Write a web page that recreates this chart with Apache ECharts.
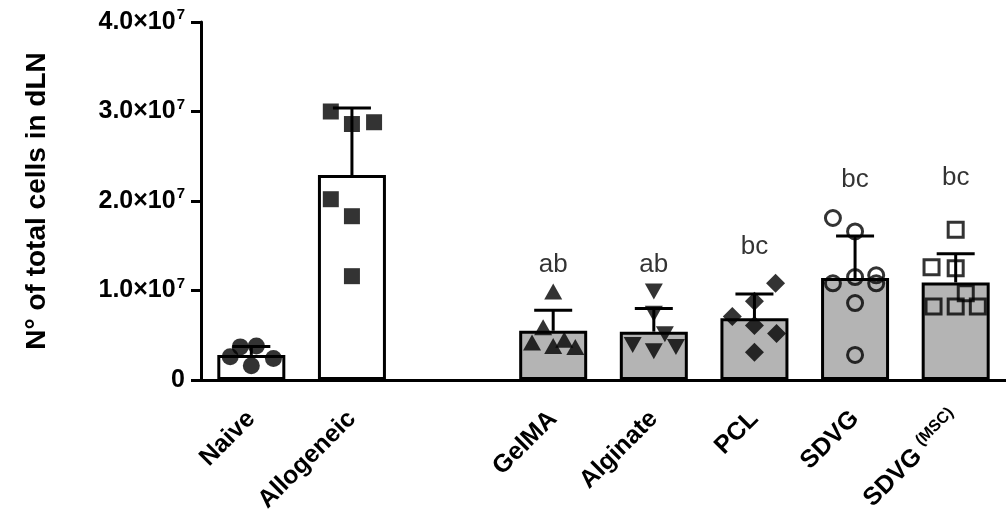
<!DOCTYPE html>
<html>
<head>
<meta charset="utf-8">
<script src="https://cdn.jsdelivr.net/npm/echarts@6/dist/echarts.min.js"></script>
<style>
  html, body { margin: 0; padding: 0; background: #fff; }
  #chart { width: 1006px; height: 520px; }
</style>
</head>
<body>
<div id="chart"></div>
<script>
// Groups along the x axis (the blank entry is the gap between controls and scaffolds)
const categories = ['Naive', 'Allogeneic', '', 'GelMA', 'Alginate', 'PCL', 'SDVG', 'SDVG (MSC)'];

// Bar heights (mean) and standard deviation per group
const barMeans = [2.8e6, 2.29e7, null, 5.5e6, 5.4e6, 6.9e6, 1.14e7, 1.09e7];
const barSD    = [0.95e6, 0.75e7, null, 0.23e7, 0.26e7, 0.27e7, 0.47e7, 0.32e7];

// Individual animals per group
const naivePts      = [3.7e6, 3.8e6, 2.6e6, 2.4e6, 1.6e6];
const allogeneicPts = [3.0e7, 2.86e7, 2.88e7, 2.02e7, 1.83e7, 1.16e7];
const gelmaPts      = [0.99e7, 0.59e7, 0.42e7, 0.38e7, 0.45e7, 0.37e7];
const alginatePts   = [0.99e7, 0.74e7, 0.51e7, 0.39e7, 0.32e7, 0.37e7];
const pclPts        = [1.08e7, 0.88e7, 0.71e7, 0.61e7, 0.52e7, 0.31e7];
const sdvgPts       = [1.81e7, 1.66e7, 1.08e7, 1.15e7, 1.17e7, 1.08e7, 0.86e7, 0.28e7];
const sdvgMscPts    = [1.68e7, 1.26e7, 1.25e7, 0.97e7, 0.82e7, 0.82e7, 0.82e7];

// Horizontal scatter offsets of the points inside each column (fraction of a category)
const naiveJit      = [-0.11, 0.05, -0.21, 0.22, 0];
const allogeneicJit = [-0.21, 0, 0.22, -0.21, 0, 0];
const gelmaJit      = [0, -0.1, -0.21, 0, 0.11, 0.22];
const alginateJit   = [0, 0, 0.11, -0.21, 0, 0.22];
const pclJit        = [0.21, 0, -0.22, 0, 0.22, 0];
const sdvgJit       = [-0.22, 0, -0.22, 0, 0.21, 0.21, 0, 0];
const sdvgMscJit    = [0, -0.24, 0, 0.1, -0.22, 0, 0.22];

// Statistical letters and the height they are written at
const sigLetters  = ['', '', '', 'ab', 'ab', 'bc', 'bc', 'bc'];
const sigLetterAt = [null, null, null, 1.29e7, 1.29e7, 1.49e7, 2.24e7, 2.26e7];

// Y axis ticks
const yTicks      = [0, 1e7, 2e7, 3e7, 4e7];
const yTickLabels = ['0', '1.0×10^7', '2.0×10^7', '3.0×10^7', '4.0×10^7'];

const FONT = "'Liberation Sans', Arial, Helvetica, sans-serif";
const GRAY = '#b4b4b4';

function pts(idx, values, jit) {
  return values.map((v, k) => [idx + jit[k], v]);
}

function scatterSeries(idx, values, jit, symbol, opts) {
  return Object.assign({
    type: 'scatter',
    xAxisIndex: 1,
    yAxisIndex: 0,
    z: 5,
    symbol: symbol,
    symbolSize: 15,
    itemStyle: { color: '#000' },
    data: pts(idx, values, jit),
    silent: true
  }, opts || {});
}

const chart = echarts.init(document.getElementById('chart'), null, { renderer: 'canvas' });

const option = {
  animation: false,
  backgroundColor: '#fff',
  grid: { left: 201, right: -5, top: 22, bottom: 140, containLabel: false },
  xAxis: [
    {
      type: 'category',
      data: categories,
      boundaryGap: true,
      axisLine: { onZero: false, lineStyle: { color: '#000', width: 3 } },
      axisTick: { alignWithLabel: true, length: 11, lineStyle: { color: '#000', width: 3 } },
      axisLabel: {
        interval: 0,
        rotate: 45,
        margin: 35,
        color: '#000',
        formatter: function (v) {
          const m = v.match(/^(.*?)\s*(\(.*\))$/);
          if (m) return '{m|' + m[1] + ' }{s|' + m[2] + '}';
          return '{m|' + v + '}';
        },
        rich: {
          m: { fontFamily: FONT, fontWeight: 'bold', fontSize: 25, color: '#000', lineHeight: 29 },
          s: { fontFamily: FONT, fontWeight: 'bold', fontSize: 16, color: '#000', verticalAlign: 'top', lineHeight: 29, padding: [0, 0, 10, 0] }
        }
      },
      splitLine: { show: false }
    },
    {
      type: 'value',
      min: -0.5,
      max: 7.5,
      show: false
    }
  ],
  yAxis: {
    type: 'value',
    min: 0,
    max: 4e7,
    interval: 1e7,
    name: 'N° of total cells in dLN',
    nameLocation: 'middle',
    nameRotate: 90,
    nameGap: 150,
    nameTextStyle: { fontFamily: FONT, fontWeight: 'bold', fontSize: 28, color: '#000' },
    axisLine: { show: true, onZero: false, lineStyle: { color: '#000', width: 3 } },
    axisTick: { show: true, length: 10, lineStyle: { color: '#000', width: 3 } },
    splitLine: { show: false },
    axisLabel: {
      margin: 16,
      formatter: function (v) {
        const i = yTicks.indexOf(v);
        const t = i >= 0 ? yTickLabels[i] : String(v);
        const parts = t.split('^');
        if (parts.length === 2) return '{m|' + parts[0] + '}{s|' + parts[1] + '}';
        return '{m|' + t + '}';
      },
      rich: {
        m: { fontFamily: FONT, fontWeight: 'bold', fontSize: 25, color: '#000', lineHeight: 29 },
        s: { fontFamily: FONT, fontWeight: 'bold', fontSize: 15, color: '#000', verticalAlign: 'top', lineHeight: 29, padding: [0, 0, 10, 1] }
      }
    }
  },
  series: [
    {
      type: 'bar',
      xAxisIndex: 0,
      barWidth: 68,
      z: 2,
      silent: true,
      data: barMeans.map((v, i) => ({
        value: v,
        itemStyle: { color: i < 2 ? '#fff' : GRAY, borderColor: '#000', borderWidth: 3 }
      }))
    },
    {
      // upward SD whiskers with a cap
      type: 'custom',
      xAxisIndex: 0,
      z: 3,
      silent: true,
      data: barMeans.map((v, i) => [i, v, barSD[i]]),
      renderItem: function (params, api) {
        const mean = api.value(1);
        const sd = api.value(2);
        if (mean == null || isNaN(mean) || isNaN(sd)) return null;
        const base = api.coord([api.value(0), mean]);
        const top = api.coord([api.value(0), mean + sd]);
        const half = 19;
        const st = { stroke: '#000', lineWidth: 3, fill: null };
        return {
          type: 'group',
          children: [
            { type: 'line', shape: { x1: base[0], y1: base[1], x2: top[0], y2: top[1] }, style: st },
            { type: 'line', shape: { x1: top[0] - half, y1: top[1], x2: top[0] + half, y2: top[1] }, style: st }
          ]
        };
      }
    },
    scatterSeries(0, naivePts, naiveJit, 'circle', { symbolSize: 17 }),
    scatterSeries(1, allogeneicPts, allogeneicJit, 'rect', { symbolSize: 16 }),
    scatterSeries(3, gelmaPts, gelmaJit, 'triangle', { symbolSize: [18, 16] }),
    scatterSeries(4, alginatePts, alginateJit, 'triangle', { symbolSize: [18, 16], symbolRotate: 180 }),
    scatterSeries(5, pclPts, pclJit, 'diamond', { symbolSize: [19, 19] }),
    scatterSeries(6, sdvgPts, sdvgJit, 'circle', {
      symbolSize: 15,
      itemStyle: { color: 'rgba(0,0,0,0)', borderColor: '#000', borderWidth: 3 }
    }),
    scatterSeries(7, sdvgMscPts, sdvgMscJit, 'rect', {
      symbolSize: 15,
      itemStyle: { color: 'rgba(0,0,0,0)', borderColor: '#000', borderWidth: 3 }
    }),
    {
      // significance letters
      type: 'scatter',
      xAxisIndex: 1,
      z: 6,
      silent: true,
      symbolSize: 1,
      itemStyle: { color: 'rgba(0,0,0,0)' },
      data: sigLetters.map((s, i) => (s ? { value: [i, sigLetterAt[i]], name: s } : null)).filter(Boolean),
      label: {
        show: true,
        position: 'inside',
        formatter: function (p) { return p.name; },
        fontFamily: FONT,
        fontSize: 26,
        color: '#000'
      }
    }
  ]
};

chart.setOption(option);
</script>
</body>
</html>
